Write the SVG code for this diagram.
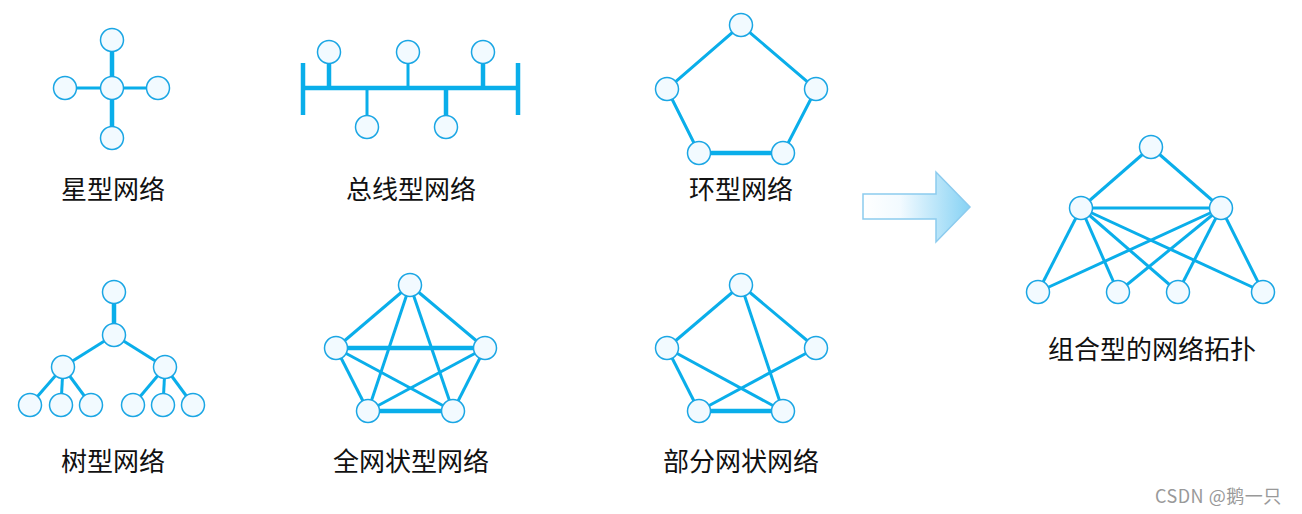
<svg xmlns="http://www.w3.org/2000/svg" width="1302" height="514" viewBox="0 0 1302 514">
<defs>
<linearGradient id="ag" x1="0" y1="0" x2="1" y2="0">
<stop offset="0" stop-color="#ffffff"/>
<stop offset="0.35" stop-color="#f2faff"/>
<stop offset="1" stop-color="#86d2f4"/>
</linearGradient>
</defs>
<style>
.l{stroke:#0aaeea;stroke-width:3;fill:none}
.t{stroke:#0aaeea;stroke-width:4.5;fill:none}
circle{fill:#f2faff;stroke:#1aa6e4;stroke-width:1.5}
text{font-family:"Noto Sans CJK SC","Noto Sans",sans-serif;font-size:26px;fill:#111;text-anchor:middle}
.w{font-size:18px;fill:#999;text-anchor:start;letter-spacing:0.5px}
</style>
<rect width="1302" height="514" fill="#fff"/>
<g id="connectors">
<line class="t" x1="112" y1="40" x2="112" y2="138"/>
<line class="l" x1="65" y1="88" x2="158" y2="88"/>
<line class="t" x1="303" y1="63" x2="303" y2="115"/>
<line class="t" x1="518" y1="63" x2="518" y2="115"/>
<line class="t" x1="303" y1="88" x2="518" y2="88"/>
<line class="t" x1="329" y1="52" x2="329" y2="88"/>
<line class="l" x1="408" y1="52" x2="408" y2="88"/>
<line class="t" x1="483" y1="52" x2="483" y2="88"/>
<line class="l" x1="367" y1="88" x2="367" y2="127"/>
<line class="t" x1="446" y1="88" x2="446" y2="127"/>
<polyline class="l" points="699,153 667,89 741,25 816,89 783,153"/>
<line class="t" x1="699" y1="153" x2="783" y2="153"/>
<line class="t" x1="114" y1="292" x2="114" y2="335"/>
<line class="l" x1="114" y1="335" x2="63" y2="367"/>
<line class="l" x1="114" y1="335" x2="165" y2="367"/>
<line class="l" x1="63" y1="367" x2="30" y2="405"/>
<line class="l" x1="63" y1="367" x2="61" y2="405"/>
<line class="l" x1="63" y1="367" x2="91" y2="405"/>
<line class="l" x1="165" y1="367" x2="133" y2="405"/>
<line class="l" x1="165" y1="367" x2="163" y2="405"/>
<line class="l" x1="165" y1="367" x2="193" y2="405"/>
<line class="l" x1="410" y1="285" x2="336" y2="348"/>
<line class="l" x1="410" y1="285" x2="485" y2="348"/>
<line class="l" x1="410" y1="285" x2="368" y2="411"/>
<line class="l" x1="410" y1="285" x2="453" y2="411"/>
<line class="t" x1="336" y1="348" x2="485" y2="348"/>
<line class="l" x1="336" y1="348" x2="368" y2="411"/>
<line class="l" x1="336" y1="348" x2="453" y2="411"/>
<line class="l" x1="485" y1="348" x2="368" y2="411"/>
<line class="l" x1="485" y1="348" x2="453" y2="411"/>
<line class="t" x1="368" y1="411" x2="453" y2="411"/>
<line class="l" x1="741" y1="285" x2="667" y2="348"/>
<line class="l" x1="741" y1="285" x2="816" y2="348"/>
<line class="l" x1="741" y1="285" x2="783" y2="411"/>
<line class="l" x1="667" y1="348" x2="699" y2="411"/>
<line class="l" x1="667" y1="348" x2="783" y2="411"/>
<line class="l" x1="816" y1="348" x2="699" y2="411"/>
<line class="t" x1="699" y1="411" x2="783" y2="411"/>
<line class="l" x1="1151" y1="147" x2="1081" y2="208"/>
<line class="l" x1="1151" y1="147" x2="1221" y2="208"/>
<line class="l" x1="1081" y1="208" x2="1221" y2="208"/>
<line class="l" x1="1081" y1="208" x2="1038" y2="292"/>
<line class="l" x1="1081" y1="208" x2="1118" y2="292"/>
<line class="l" x1="1081" y1="208" x2="1178" y2="292"/>
<line class="l" x1="1081" y1="208" x2="1263" y2="292"/>
<line class="l" x1="1221" y1="208" x2="1038" y2="292"/>
<line class="l" x1="1221" y1="208" x2="1118" y2="292"/>
<line class="l" x1="1221" y1="208" x2="1178" y2="292"/>
<line class="l" x1="1221" y1="208" x2="1263" y2="292"/>
</g>
<g id="star">
<circle cx="112" cy="40" r="11.5"/><circle cx="112" cy="88" r="11.5"/><circle cx="65" cy="88" r="11.5"/><circle cx="158" cy="88" r="11.5"/><circle cx="112" cy="138" r="11.5"/>
<text x="113" y="199">星型网络</text>
</g>
<g id="bus">
<circle cx="329" cy="52" r="11.5"/><circle cx="408" cy="52" r="11.5"/><circle cx="483" cy="52" r="11.5"/><circle cx="367" cy="127" r="11.5"/><circle cx="446" cy="127" r="11.5"/>
<text x="411" y="199">总线型网络</text>
</g>
<g id="ring">
<circle cx="741" cy="25" r="11.5"/><circle cx="667" cy="89" r="11.5"/><circle cx="816" cy="89" r="11.5"/><circle cx="699" cy="153" r="11.5"/><circle cx="783" cy="153" r="11.5"/>
<text x="741" y="199">环型网络</text>
</g>
<g id="tree">
<circle cx="114" cy="292" r="11.5"/><circle cx="114" cy="335" r="11.5"/><circle cx="63" cy="367" r="11.5"/><circle cx="165" cy="367" r="11.5"/>
<circle cx="30" cy="405" r="11.5"/><circle cx="61" cy="405" r="11.5"/><circle cx="91" cy="405" r="11.5"/><circle cx="133" cy="405" r="11.5"/><circle cx="163" cy="405" r="11.5"/><circle cx="193" cy="405" r="11.5"/>
<text x="113" y="471">树型网络</text>
</g>
<g id="fullmesh">
<circle cx="410" cy="285" r="11.5"/><circle cx="336" cy="348" r="11.5"/><circle cx="485" cy="348" r="11.5"/><circle cx="368" cy="411" r="11.5"/><circle cx="453" cy="411" r="11.5"/>
<text x="411" y="471">全网状型网络</text>
</g>
<g id="partialmesh">
<circle cx="741" cy="285" r="11.5"/><circle cx="667" cy="348" r="11.5"/><circle cx="816" cy="348" r="11.5"/><circle cx="699" cy="411" r="11.5"/><circle cx="783" cy="411" r="11.5"/>
<text x="741" y="471">部分网状网络</text>
</g>
<g id="arrow">
<polygon points="863,194 936,194 936,172 970,207 936,242 936,219 863,219" fill="url(#ag)" stroke="#8ccbee" stroke-width="1.5"/>
</g>
<g id="combined">
<circle cx="1151" cy="147" r="11.5"/><circle cx="1081" cy="208" r="11.5"/><circle cx="1221" cy="208" r="11.5"/>
<circle cx="1038" cy="292" r="11.5"/><circle cx="1118" cy="292" r="11.5"/><circle cx="1178" cy="292" r="11.5"/><circle cx="1263" cy="292" r="11.5"/>
<text x="1152" y="359">组合型的网络拓扑</text>
</g>
<text class="w" x="1155" y="503">CSDN @鹅一只</text>
</svg>
